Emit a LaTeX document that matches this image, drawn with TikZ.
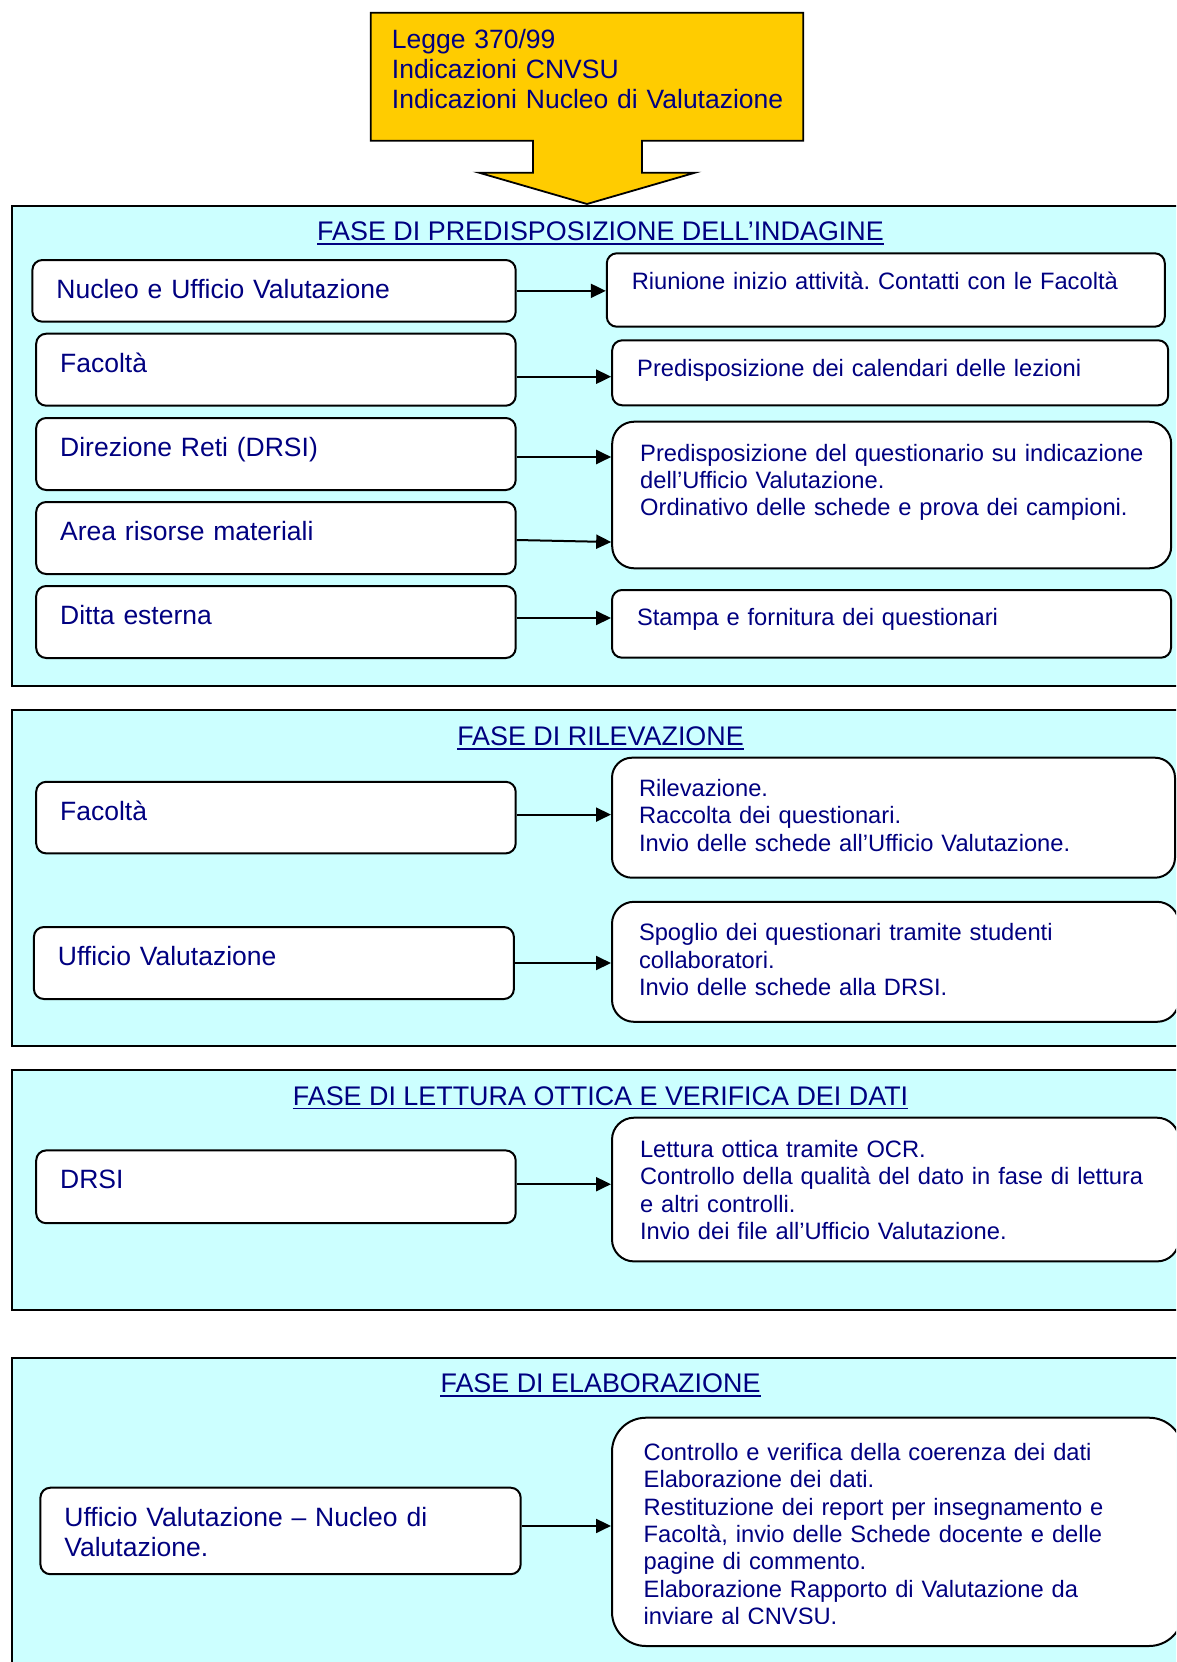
\documentclass[tikz,border=0pt]{standalone}
\usepackage{fontspec}
\setmainfont{Liberation Sans}
\frenchspacing
\definecolor{Navy}{HTML}{000080}
\definecolor{Ciano}{HTML}{CCFFFF}
\definecolor{Giallo}{HTML}{FFCC00}
\usetikzlibrary{arrows.meta}

\begin{document}
\begin{tikzpicture}
    [x=1pt, y=-1pt,
    fase/.style={draw=black, line width=2pt, fill=Ciano, anchor=north west, minimum width=1177.8pt, inner sep=0pt},
    titolo/.style={text=Navy, font=\fontsize{26.9pt}{30pt}\selectfont, anchor=base, inner sep=0pt},
    sottolinea/.style={draw=Navy, line width=1.8pt},
    ente/.style={draw=black, line width=2pt, fill=white, rounded corners=10pt, text=Navy,
        font=\fontsize{26.5pt}{30.6pt}\selectfont, align=left, anchor=north west,
        inner xsep=24pt, inner ysep=0pt, text width=431.5pt, text height=38.5pt, text depth=33.5pt},
    azione/.style={draw=black, line width=2pt, fill=white, rounded corners=10pt, text=Navy,
        font=\fontsize{23.7pt}{27.4pt}\selectfont, align=left, anchor=north west,
        inner xsep=25pt, inner ysep=0pt},
    flusso/.style={line width=2pt, -{Triangle[length=15pt,width=14pt]}}]

    \useasboundingbox (0,0) rectangle (1176,1662);
    \clip (0,0) rectangle (1176,1662);
    \fill[white] (0,0) rectangle (1176,1662);

    % fonti
    \filldraw[fill=Giallo, draw=black, line width=1.8pt] (370.7,12.7) -- (803.3,12.7) -- (803.3,140.7) -- (642,140.7)
        -- (642,172.7) -- (695,172.7) -- (587,204) -- (479,172.7) -- (533,172.7) -- (533,140.7) -- (370.7,140.7) -- cycle;
    \node[anchor=north west, text=Navy, font=\fontsize{26.5pt}{30.2pt}\selectfont, align=left,
        inner xsep=21pt, inner ysep=0pt, text width=410pt, text height=35.6pt] (fonti) at (370.7,12.7)
        {Legge 370/99\\Indicazioni CNVSU\\Indicazioni Nucleo di Valutazione};

    % predisposizione
    \node[fase, minimum height=480.3pt] (fase1) at (10.6,204.7) {};
    \node[titolo] (tit1) at ([yshift=-36pt]fase1.north) {FASE DI PREDISPOSIZIONE DELL’INDAGINE};
    \draw[sottolinea] ([yshift=-3.5pt]tit1.base west) -- ([yshift=-3.5pt]tit1.base east);

    \node[ente, text width=435.3pt, text height=38.3pt, text depth=23.4pt] (nucleo) at (31.4,259) {Nucleo e Ufficio Valutazione};
    \node[ente] (facolta) at (35.2,332.7) {Facoltà};
    \node[ente] (drsi) at (35.2,417) {Direzione Reti (DRSI)};
    \node[ente] (area) at (35.2,501) {Area risorse materiali};
    \node[ente] (ditta) at (35.2,585) {Ditta esterna};

    \node[azione, text width=508pt, text height=36pt, text depth=37.4pt] (riunione) at (605.8,252.3)
        {Riunione inizio attività. Contatti con le Facoltà};
    \node[azione, text width=506pt, text height=35.7pt, text depth=29.3pt] (calendari) at (611.2,339.3)
        {Predisposizione dei calendari delle lezioni};
    \node[azione, rounded corners=22pt, inner xsep=28pt, text width=503pt, text height=39.3pt, text depth=107.3pt] (questionario) at (611.2,420.7)
        {\mbox{Predisposizione del questionario su indicazione}\\dell’Ufficio Valutazione.\\Ordinativo delle schede e prova dei campioni.};
    \node[azione, text width=509pt, text height=35pt, text depth=32.7pt] (stampa) at (611,589)
        {Stampa e fornitura dei questionari};

    % rilevazione
    \node[fase, minimum height=335.1pt] (fase2) at (10.6,709.4) {};
    \node[titolo] (tit2) at ([yshift=-36pt]fase2.north) {FASE DI RILEVAZIONE};
    \draw[sottolinea] ([yshift=-3.5pt]tit2.base west) -- ([yshift=-3.5pt]tit2.base east);

    \node[ente, text depth=33.1pt] (facolta2) at (35.2,780.8) {Facoltà};
    \node[ente, text width=432pt] (ufficio) at (32.9,926) {Ufficio Valutazione};

    \node[azione, rounded corners=20pt, inner xsep=27pt, text width=509pt, text height=38.8pt, text depth=81.2pt] (rilevazione) at (611,756.7)
        {Rilevazione.\\Raccolta dei questionari.\\Invio delle schede all’Ufficio Valutazione.};
    \node[azione, rounded corners=22pt, inner xsep=27pt, text width=513pt, text height=38.8pt, text depth=81.2pt] (spoglio) at (611,900.8)
        {Spoglio dei questionari tramite studenti\\collaboratori.\\Invio delle schede alla DRSI.};

    % lettura ottica
    \node[fase, minimum height=239.6pt] (fase3) at (10.6,1069) {};
    \node[titolo] (tit3) at ([yshift=-36pt]fase3.north) {FASE DI LETTURA OTTICA E VERIFICA DEI DATI};
    \draw[sottolinea] ([yshift=-3.5pt]tit3.base west) -- ([yshift=-3.5pt]tit3.base east);

    \node[ente, text depth=34.3pt] (drsi2) at (35.2,1149.4) {DRSI};

    \node[azione, rounded corners=22pt, inner xsep=28pt, text width=511pt, text height=39.6pt, text depth=104.1pt] (lettura) at (611,1116.7)
        {Lettura ottica tramite OCR.\\\mbox{Controllo della qualità del dato in fase di lettura}\\e altri controlli.\\Invio dei file all’Ufficio Valutazione.};

    % elaborazione
    \node[fase, minimum height=330pt] (fase4) at (10.6,1356.7) {};
    \node[titolo] (tit4) at ([yshift=-36pt]fase4.north) {FASE DI ELABORAZIONE};
    \draw[sottolinea] ([yshift=-3.5pt]tit4.base west) -- ([yshift=-3.5pt]tit4.base east);

    \node[ente, text width=432.3pt, text depth=48pt] (ufficio2) at (39.4,1486.7) {Ufficio Valutazione -- Nucleo di\\Valutazione.};

    \node[azione, rounded corners=34pt, inner xsep=31.7pt, text width=507.6pt, text height=42.6pt, text depth=185.7pt] (elaborazione) at (611,1416.7) {};
    \begin{scope}
        \clip (elaborazione.north west) rectangle ([yshift=24pt]elaborazione.south east);
        \node[azione, draw=none, fill=none, inner xsep=31.7pt, text width=507.6pt, text height=42.6pt, text depth=185.7pt] (testo) at (611,1416.7)
            {Controllo e verifica della coerenza dei dati\\Elaborazione dei dati.\\Restituzione dei report per insegnamento e\\Facoltà, invio delle Schede docente e delle\\pagine di commento.\\Elaborazione Rapporto di Valutazione da\\inviare al CNVSU.};
    \end{scope}

    % frecce
    \draw[flusso] (nucleo.east) -- (nucleo.east -| riunione.west);
    \draw[flusso] ([yshift=-7pt]facolta.east) -- ([yshift=-7pt]facolta.east -| calendari.west);
    \draw[flusso] ([yshift=-3pt]drsi.east) -- ([yshift=-3pt]drsi.east -| questionario.west);
    \draw[flusso] ([yshift=-2pt]area.east) -- ([yshift=-4pt]area.east -| questionario.west);
    \draw[flusso] ([yshift=4pt]ditta.east) -- ([yshift=4pt]ditta.east -| stampa.west);
    \draw[flusso] ([yshift=3pt]facolta2.east) -- ([yshift=3pt]facolta2.east -| rilevazione.west);
    \draw[flusso] (ufficio.east) -- (ufficio.east -| spoglio.west);
    \draw[flusso] ([yshift=2.6pt]drsi2.east) -- ([yshift=2.6pt]drsi2.east -| lettura.west);
    \draw[flusso] ([yshift=5pt]ufficio2.east) -- ([yshift=5pt]ufficio2.east -| elaborazione.west);
\end{tikzpicture}
\end{document}
